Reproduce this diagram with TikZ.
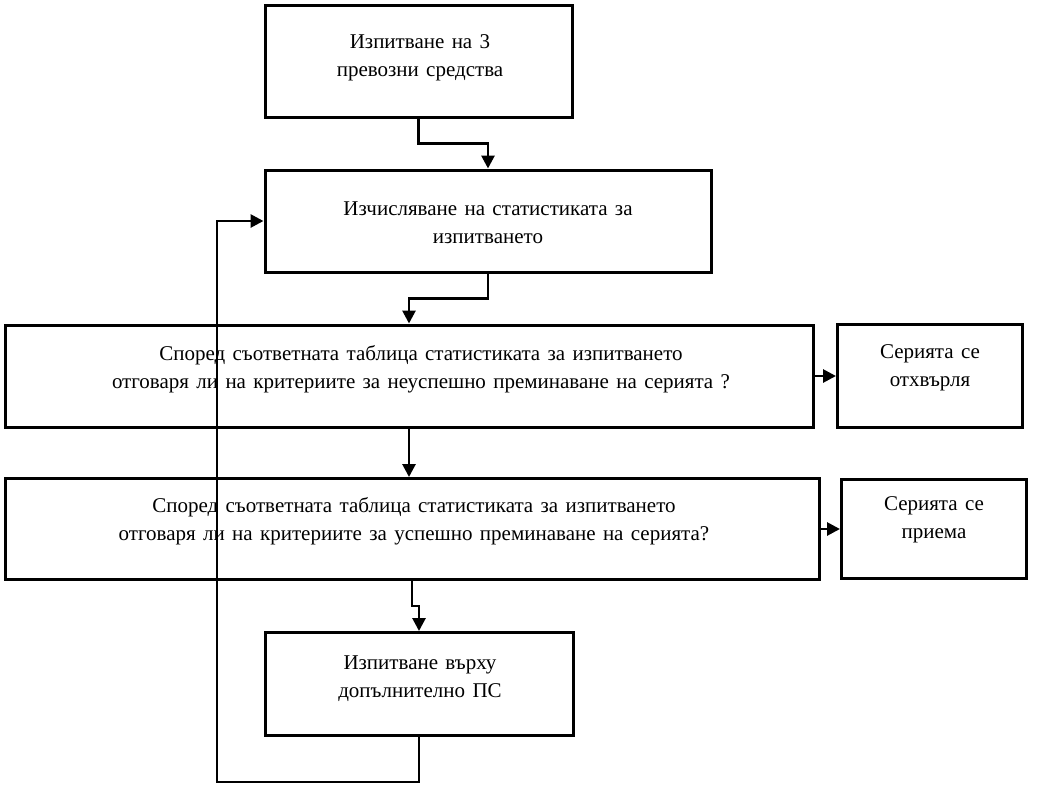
\documentclass[tikz,border=0pt]{standalone}
\usepackage{fontspec}
\setmainfont{Liberation Serif}[WordSpace={1.4,1.3,1.1}]
\usetikzlibrary{arrows.meta,calc}
\begin{document}
\begin{tikzpicture}[x=1pt,y=-1pt,
  box/.style={draw=black,line width=3pt,rectangle,inner sep=0pt},
  txt/.style={align=center,font=\fontsize{21}{28}\selectfont,inner sep=0pt},
  conn/.style={draw=black,line width=2.8pt,-{Triangle[length=13pt,width=13pt]}}]
\useasboundingbox (0,0) rectangle (1045,801);
% boxes
\node[box,minimum width=307pt,minimum height=112pt] (b1) at (418.5,61) {};
\node[box,minimum width=446pt,minimum height=102pt] (b2) at (488,221) {};
\node[box,minimum width=808pt,minimum height=102pt] (b3) at (409,376) {};
\node[box,minimum width=814pt,minimum height=101pt] (b4) at (412,529) {};
\node[box,minimum width=308pt,minimum height=103pt] (b5) at (419,684) {};
\node[box,minimum width=185pt,minimum height=103pt] (r1) at (930,376) {};
\node[box,minimum width=185pt,minimum height=99pt] (r2) at (934,529) {};
% texts
\node[txt] (t1) at (420,58) {Изпитване на 3\\превозни средства};
\node[txt] (t2) at (488,223) {Изчисляване на статистиката за\\изпитването};
\node[txt] (t3) at (421,369) {Според съответната таблица статистиката за изпитването\\отговаря ли на критериите за неуспешно преминаване на серията ?};
\node[txt] (t4) at (414,521) {Според съответната таблица статистиката за изпитването\\отговаря ли на критериите за успешно преминаване на серията?};
\node[txt] (t5) at (420,679) {Изпитване върху\\допълнително ПС};
\node[txt] (tr1) at (930,368) {Серията се\\отхвърля};
\node[txt] (tr2) at (934,520) {Серията се\\приема};
% connectors
\draw[conn] (b1.south) |- ($(b1.south)!0.5!(b2.north)$) -| (b2.north);
\draw[conn] (b2.south) |- ($(b2.south)!0.5!(b3.north)$) -| (b3.north);
\draw[conn] (b3.south) -- (b3.south |- b4.north);
\draw[conn] (b4.south) |- ($(b4.south)!0.5!(b5.north)$) -| (b5.north);
\draw[conn] (b3.east) -- (r1.west);
\draw[conn] (b4.east) -- (r2.west);
\coordinate (lp) at (217,782);
\draw[conn] (b5.south) |- (lp) |- (b2.west);
\end{tikzpicture}
\end{document}
